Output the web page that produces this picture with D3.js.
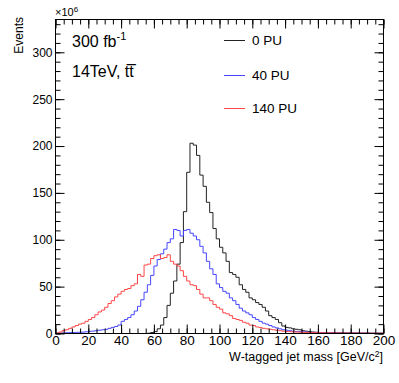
<!DOCTYPE html>
<html>
<head>
<meta charset="utf-8">
<script src="https://cdn.jsdelivr.net/npm/d3@7"></script>
<style>
  body { margin: 0; background: #fff; }
  svg { font-family: "Liberation Sans", Arial, sans-serif; }
  .axis text { font-family: "Liberation Sans", Arial, sans-serif; fill: #000; }
  .axis line { stroke: #000; }
</style>
</head>
<body>
<div class="chart1"></div>
<script>
// bin left edges 0,2,...,198 (2 GeV bins), values in units of 10^6 events
var binWidth = 2;
var pu0 = [0,0,0,0,0,0,0,0,0,0, 0,0,0,0,0,0,0,0,0,0, 0,0,0,0,0,0,0,0,0.3,1,
  2,5,9,17,30,43,56,74,97,130,
  172,203,201,190,169,157,140,129,112,101,
  92,86,77,65,63,60,52,47,44,38,
  36,33,31,28,24,19,17,15,11.5,8,
  6.5,6,5,4.5,4,3,2.5,2,1.6,1.3,
  1.1,1,0.9,0.9,0.8,0.8,0.7,0.7,0.6,0.6,0.5,0.5,0.5,0.4,0.4,0.4,0.3,0.3,0.3,0.3];
var pu40 = [0.3,0.5,0.6,0.8,1,1,1.2,1.3,1.5,1.8,
  2.3,2.6,3,3.5,4,4.5,5.5,6.5,7.5,9,
  13,15,17,20,24,29,36,44,52,62,
  72,79,85,90,97,101,111,110,104,110,
  111,107,104,100,93,86,77,69,63,53,
  49,45,43,38,35,31,27,24,22,20,
  17,15,13,11,10,8.5,7,6,5,4,
  3.5,3,2.5,2.2,2,1.7,1.5,1.3,1.2,1.1,
  1,1,0.9,0.9,0.8,0.8,0.7,0.7,0.6,0.6,0.5,0.5,0.5,0.4,0.4,0.4,0.3,0.3,0.3,0.3];
var pu140 = [0.5,1.5,3,4,5.5,7,8.5,10,11,13,
  15,17,20,23,25,28,32,35,39,42,
  45,47,48,51,53,63,61,73,74,80,
  83,84,80,81,84,77,74,72,67,61,
  56,52,51,47,42,38,38,35,31,28,
  26,22,21,19,16,15,14,12,11,9,
  8.5,7,6.5,5.5,5,4.5,4,3.5,3,2.5,
  2.2,2,1.8,1.6,1.4,1.2,
  1.1,1,1,0.9,0.9,0.8,0.8,0.7,0.7,0.6,0.6,0.6,0.5,0.5,0.5,0.4,0.4,0.4,0.3,0.3,0.3,0.3,0.3,0.3];

var seriesNames = ["0 PU", "40 PU", "140 PU"];
var seriesColors = ["#222222", "#4646ff", "#ff4646"];
var xTicks = [0, 20, 40, 60, 80, 100, 120, 140, 160, 180, 200];
var yTicks = [0, 50, 100, 150, 200, 250, 300];

var margin = { top: 19, right: 16, bottom: 50, left: 55 };
var width = 399 - margin.left - margin.right;
var height = 383 - margin.top - margin.bottom;
var xScale = d3.scaleLinear().domain([0, 200]).range([0, width]);
var yScale = d3.scaleLinear().domain([0, 335]).range([height, 0]);
var zScale = d3.scaleOrdinal().domain(seriesNames).range(seriesColors);

var svg = d3.select('.chart1')
  .append('svg')
  .attr("width", 399)
  .attr("height", 383);

var chart = svg.append("g")
  .attr("transform", "translate(" + (margin.left + 0.5) + "," + (margin.top + 0.5) + ")");

// histograms
var line = d3.line()
  .curve(d3.curveStepAfter)
  .x(function (d) { return xScale(d.x); })
  .y(function (d) { return yScale(d.y); });

function toSteps(vals) {
  var pts = vals.map(function (v, i) { return { x: i * binWidth, y: v }; });
  pts.push({ x: vals.length * binWidth, y: vals[vals.length - 1] });
  return pts;
}

[pu0, pu40, pu140].forEach(function (vals, i) {
  chart.append("path")
    .attr("d", line(toSteps(vals)))
    .attr("fill", "none")
    .attr("stroke", zScale(seriesNames[i]))
    .attr("stroke-width", 1);
});

// axes, ROOT style ticks pointing inwards
var minorX = d3.range(0, 201, 5);
var minorY = d3.range(0, 336, 10);

function addAxis(axis, transform) {
  var g = chart.append("g").attr("class", "axis").attr("transform", transform).call(axis);
  g.select(".domain").remove();
  return g;
}

addAxis(d3.axisBottom(xScale).tickValues(minorX).tickSizeInner(-5).tickSizeOuter(0).tickFormat(""), "translate(0," + height + ")");
addAxis(d3.axisTop(xScale).tickValues(minorX).tickSizeInner(-5).tickSizeOuter(0).tickFormat(""), "translate(0,0)");
addAxis(d3.axisLeft(yScale).tickValues(minorY).tickSizeInner(-5).tickSizeOuter(0).tickFormat(""), "translate(0,0)");
addAxis(d3.axisRight(yScale).tickValues(minorY).tickSizeInner(-5).tickSizeOuter(0).tickFormat(""), "translate(" + width + ",0)");

var xAxis = addAxis(d3.axisBottom(xScale).tickValues(xTicks).tickSizeInner(-9).tickSizeOuter(0).tickPadding(2), "translate(0," + height + ")");
xAxis.selectAll("text").style("font-size", "13.5px");
addAxis(d3.axisTop(xScale).tickValues(xTicks).tickSizeInner(-9).tickSizeOuter(0).tickFormat(""), "translate(0,0)");
var yAxis = addAxis(d3.axisLeft(yScale).tickValues(yTicks).tickSizeInner(-9).tickSizeOuter(0).tickPadding(3), "translate(0,0)");
yAxis.selectAll("text").style("font-size", "12px");
addAxis(d3.axisRight(yScale).tickValues(yTicks).tickSizeInner(-9).tickSizeOuter(0).tickFormat(""), "translate(" + width + ",0)");

chart.append("rect")
  .attr("width", width)
  .attr("height", height)
  .attr("fill", "none")
  .attr("stroke", "#000");

// axis titles
var xt = svg.append("text")
  .attr("x", margin.left + width)
  .attr("y", 361)
  .attr("text-anchor", "end")
  .style("font-size", "12.5px");
xt.append("tspan").text("W-tagged jet mass [GeV/c");
xt.append("tspan").attr("dy", -4).style("font-size", "8.5px").text("2");
xt.append("tspan").attr("dy", 4).text("]");

svg.append("text")
  .attr("transform", "translate(23,17) rotate(-90)")
  .attr("text-anchor", "end")
  .style("font-size", "12px")
  .text("Events");

var exp = svg.append("text")
  .attr("x", 55)
  .attr("y", 16)
  .style("font-size", "11px");
exp.append("tspan").text("\u00d710");
exp.append("tspan").attr("dy", -4).style("font-size", "8px").text("6");

// labels
var l1 = svg.append("text").attr("x", 72).attr("y", 47).style("font-size", "16px");
l1.append("tspan").text("300 fb");
l1.append("tspan").attr("dy", -7).style("font-size", "11px").text("-1");

svg.append("text").attr("x", 72).attr("y", 77).style("font-size", "16px")
  .text("14TeV, t\u0074\u0305");

// legend
var legendY = [40.5, 75.5, 108.5];
var legend = svg.selectAll(".legend")
  .data(seriesNames)
  .enter().append("g")
  .attr("class", "legend")
  .attr("transform", function (d, i) { return "translate(224," + legendY[i] + ")"; });

legend.append("line")
  .attr("x1", 0).attr("x2", 21)
  .style("stroke", function (d) { return zScale(d); })
  .style("stroke-width", 1);

legend.append("text")
  .attr("x", 28)
  .attr("dy", "0.35em")
  .style("font-size", "13.5px")
  .text(function (d) { return d; });
</script>
</body>
</html>
